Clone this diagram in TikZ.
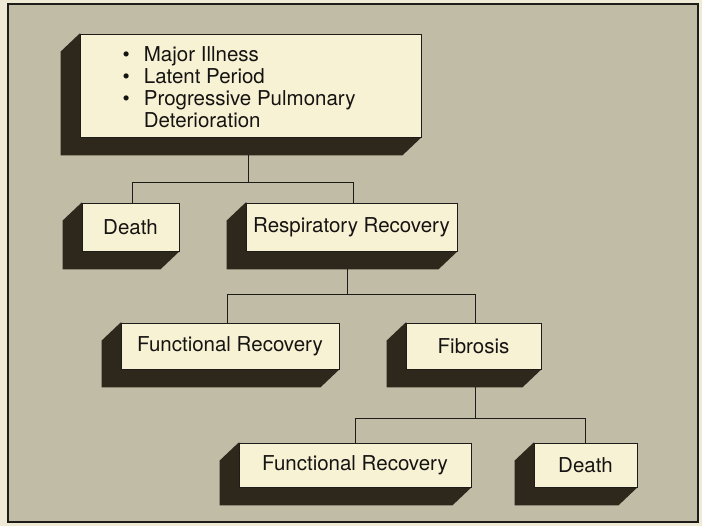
\documentclass[tikz,border=0pt]{standalone}
\usepackage{fontspec}
\setmainfont{TeX Gyre Heros}
\usetikzlibrary{calc}
\pgfdeclarelayer{bg}
\pgfsetlayers{bg,main}
\definecolor{outerc}{RGB}{238,234,214}
\definecolor{innerc}{RGB}{192,188,166}
\definecolor{facec}{RGB}{247,242,212}
\definecolor{shadowc}{RGB}{46,39,28}
\definecolor{linec}{RGB}{30,28,24}
\definecolor{textc}{RGB}{22,20,18}
\newcommand\extrude[1]{%
  \fill[shade3d] (#1.north west) -- ($(#1.north west)+(-19,18)$) -- ($(#1.south west)+(-19,18)$)
    -- ($(#1.south east)+(-19,18)$) -- (#1.south east) -- cycle;}
\begin{document}
\begin{tikzpicture}[x=1pt,y=-1pt,
  txt/.style={font=\fontsize{20.5}{21.7}\selectfont, text=textc},
  face/.style={draw=linec, line width=0.8pt, fill=facec, inner sep=0pt, txt},
  shade3d/.style={fill=shadowc},
  link/.style={draw=linec, line width=1pt}]
\useasboundingbox (0,0) rectangle (702,526);
% boxes (front faces)
\node[face, minimum width=341pt, minimum height=103pt] (top) at (250.5,85.5) {};
\node[txt, anchor=base west, inner sep=0pt] (toptext) at (122.5,62) {%
  \begin{tabular}[t]{@{}l@{\hspace{14pt}}l@{}}
  \textbullet & Major Illness\\
  \textbullet & Latent Period\\
  \textbullet & Progressive Pulmonary\\
              & Deterioration
  \end{tabular}};
\node[face, minimum width=97pt, minimum height=48pt] (death1) at (130.5,227) {Death};
\node[face, minimum width=211pt, minimum height=48pt] (rr) at (351.5,227) {Respiratory Recovery};
\node[face, minimum width=218pt, minimum height=46pt] (fr1) at (230,346) {Functional Recovery};
\node[face, minimum width=135pt, minimum height=46pt] (fib) at (473.5,346) {Fibrosis};
\node[face, minimum width=232pt, minimum height=44pt] (fr2) at (355,465) {Functional Recovery};
\node[face, minimum width=103pt, minimum height=44pt] (death2) at (585.5,465) {Death};
% background, frame and extrusions
\begin{pgfonlayer}{bg}
  \fill[outerc] (0,0) rectangle (702,526);
  \filldraw[fill=innerc, draw=linec, line width=1.2pt] (8,4) rectangle (698,522);
  \extrude{top}
  \extrude{death1}
  \extrude{rr}
  \extrude{fr1}
  \extrude{fib}
  \extrude{fr2}
  \extrude{death2}
\end{pgfonlayer}
% connectors
\draw[link] ($(top.south)+(-2,18)$) -- ++(0,27) -| ($(death1.north)+(2,0)$);
\draw[link] ($(top.south)+(-2,18)$) -- ++(0,27) -| ($(rr.north)+(2,0)$);
\draw[link] ($(rr.south)+(-4,18)$) -- ++(0,25) -| ($(fr1.north)+(-3,0)$);
\draw[link] ($(rr.south)+(-4,18)$) -- ++(0,25) -| ($(fib.north)+(2,0)$);
\draw[link] ($(fib.south)+(1.5,18)$) -- ++(0,31) -| (fr2.north);
\draw[link] ($(fib.south)+(1.5,18)$) -- ++(0,31) -| (death2.north);
\end{tikzpicture}
\end{document}
